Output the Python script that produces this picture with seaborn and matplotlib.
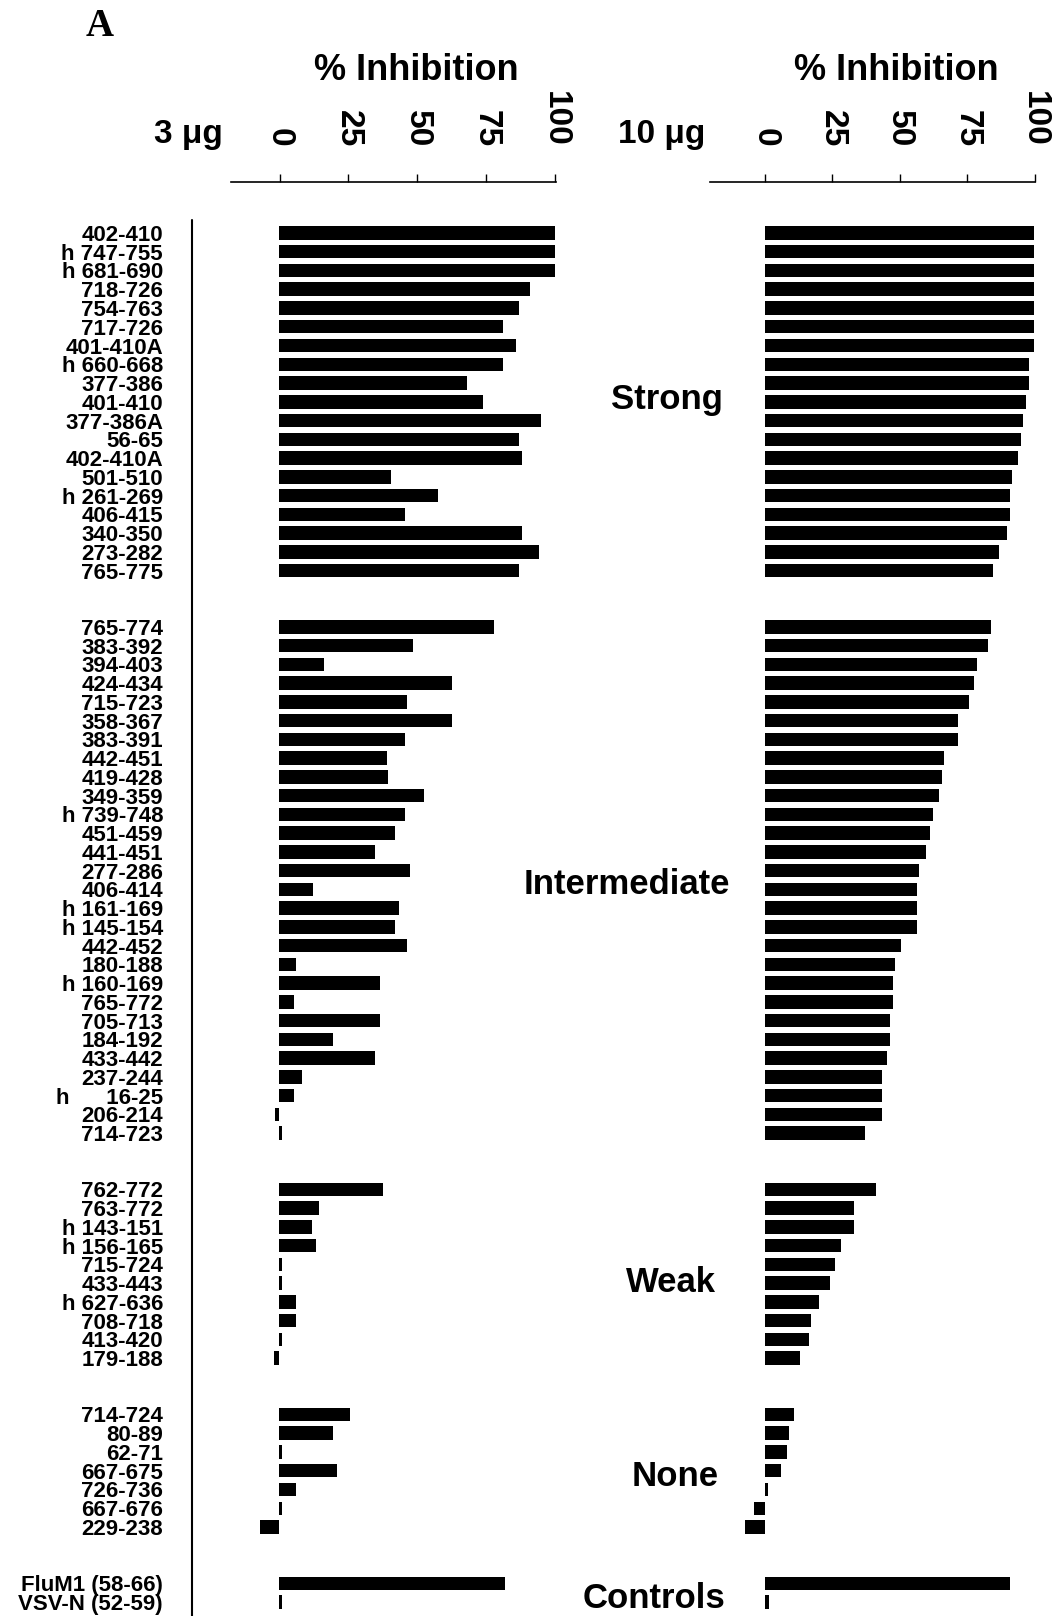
import matplotlib
matplotlib.use('Agg')
import pandas as pd
import matplotlib.pyplot as plt
import matplotlib.transforms as mtransforms
from matplotlib.lines import Line2D
import seaborn as sns

# --- data: peptides per group, % inhibition at 3 ug and 10 ug ---
strong_labels = ['402-410', 'h 747-755', 'h 681-690', '718-726', '754-763', '717-726',
                 '401-410A', 'h 660-668', '377-386', '401-410', '377-386A', '56-65',
                 '402-410A', '501-510', 'h 261-269', '406-415', '340-350', '273-282', '765-775']
strong_3ug = [100, 100, 100, 91, 87, 81, 86, 81, 68, 74, 95, 87, 88, 40.5, 57.5, 45.5, 88, 94, 87]
strong_10ug = [100, 100, 100, 100, 100, 100, 100, 98.3, 98.3, 97, 96, 95, 94, 92, 91, 91, 90, 87, 84.7]

inter_labels = ['765-774', '383-392', '394-403', '424-434', '715-723', '358-367', '383-391',
                '442-451', '419-428', '349-359', 'h 739-748', '451-459', '441-451', '277-286',
                '406-414', 'h 161-169', 'h 145-154', '442-452', '180-188', 'h 160-169',
                '765-772', '705-713', '184-192', '433-442', '237-244', 'h      16-25',
                '206-214', '714-723']
inter_3ug = [77.7, 48.4, 16.3, 62.6, 46.4, 62.6, 45.6, 39.1, 39.5, 52.5, 45.6, 41.8, 34.6, 47.4,
             12.2, 43.5, 41.8, 46.4, 6.1, 36.5, 5.2, 36.5, 19.3, 34.6, 8.3, 5.2, -1.5, 1]
inter_10ug = [84.1, 82.8, 78.8, 77.8, 75.7, 71.6, 71.6, 66.6, 65.8, 64.5, 62.5, 61.5, 59.9, 57.4,
              56.5, 56.5, 56.5, 50.4, 48.5, 47.4, 47.4, 46.5, 46.5, 45.3, 43.5, 43.5, 43.5, 37.2]

weak_labels = ['762-772', '763-772', 'h 143-151', 'h 156-165', '715-724', '433-443',
               'h 627-636', '708-718', '413-420', '179-188']
weak_3ug = [37.5, 14.3, 11.7, 13.3, 1, 1, 6.1, 6.1, 1, -2]
weak_10ug = [41.3, 33.1, 33.1, 28.2, 26.1, 24.1, 20.0, 17.1, 16.5, 12.9]

none_labels = ['714-724', '80-89', '62-71', '667-675', '726-736', '667-676', '229-238']
none_3ug = [25.5, 19.3, 1, 20.8, 6.1, 1, -7]
none_10ug = [10.9, 8.8, 8.2, 6.0, 1, -4.2, -7.5]

ctrl_labels = ['FluM1 (58-66)', 'VSV-N (52-59)']
ctrl_3ug = [81.8, 1]
ctrl_10ug = [90.9, 1.5]

group_names = ['Strong', 'Intermediate', 'Weak', 'None', 'Controls']
scale_ticks = [0, 25, 50, 75, 100]

groups = [(strong_labels, strong_3ug, strong_10ug),
          (inter_labels, inter_3ug, inter_10ug),
          (weak_labels, weak_3ug, weak_10ug),
          (none_labels, none_3ug, none_10ug),
          (ctrl_labels, ctrl_3ug, ctrl_10ug)]

rows = []
pos = 0
for labels, v3, v10 in groups:
    for lab, a, b in zip(labels, v3, v10):
        rows.append((pos, lab, a, b))
        pos += 1
    pos += 2  # blank rows between groups
df = pd.DataFrame(rows, columns=['pos', 'label', 'ug3', 'ug10'])
n_last = df['pos'].max()

sns.set_theme(style='white')
plt.rcParams['font.family'] = ['Liberation Sans', 'DejaVu Sans']
plt.rcParams['font.weight'] = 'bold'
for key in ['text.color', 'axes.labelcolor', 'xtick.color', 'ytick.color']:
    plt.rcParams[key] = 'black'

W, H = 1061, 1616
fig = plt.figure(figsize=(W / 100, H / 100), dpi=100)


def box(x0, x1, y0, y1):
    return [x0 / W, 1 - y1 / H, (x1 - x0) / W, (y1 - y0) / H]


# bar panels
ax3 = fig.add_axes(box(246.4, 557.8, 223.6, 1611.4))
ax10 = fig.add_axes(box(732.7, 1036.7, 223.6, 1611.4))
for ax, col in [(ax3, 'ug3'), (ax10, 'ug10')]:
    sns.barplot(data=df, x=col, y='pos', orient='h', native_scale=True, color='black',
                saturation=1, width=0.72, linewidth=0, errorbar=None, ax=ax)
    ax.set_xlim(-12, 101)
    ax.set_ylim(n_last + 0.5, -0.5)
    ax.set_xticks([])
    ax.set_xlabel('')
    ax.set_ylabel('')
    for s in ax.spines.values():
        s.set_visible(False)
    ax.patch.set_alpha(0)

ax3.set_yticks(df['pos'], df['label'])
ax3.tick_params(axis='y', length=0, pad=60, labelsize=16, labelcolor='black')
ax10.set_yticks([])

# scale bars on top
blend = mtransforms.blended_transform_factory
for (x0, x1, zero, hundred), title_x, dose, dose_x in [
        ((231, 556, 279.5, 555), 416.5, '3 μg', 188),
        ((710, 1035, 765, 1034.5), 896, '10 μg', 662)]:
    ppu = (hundred - zero) / 100
    sc = fig.add_axes(box(x0, x1, 150, 182))
    sc.set_xlim((x0 - zero) / ppu, (x1 - zero) / ppu)
    sc.set_ylim(0, 1)
    for side in ['top', 'left', 'right']:
        sc.spines[side].set_visible(False)
    sc.spines['bottom'].set_color('black')
    sc.spines['bottom'].set_linewidth(1.2)
    sc.set_yticks([])
    sc.set_xticks(scale_ticks)
    sc.tick_params(axis='x', direction='in', length=6, width=1, color='black',
                   labelbottom=False, bottom=True)
    sc.patch.set_alpha(0)
    tr = blend(sc.transData, fig.transFigure)
    for t in scale_ticks:
        sc.text(t, 1 - 147 / H, str(t), transform=tr, rotation=-90, ha='center',
                va='bottom', fontsize=24, fontweight='bold')
    fig.text(title_x / W, 1 - 70 / H, '% Inhibition', ha='center', va='center',
             fontsize=26, fontweight='bold')
    fig.text(dose_x / W, 1 - 134 / H, dose, ha='center', va='center',
             fontsize=24, fontweight='bold')

# group names
for name, (gx, gy) in zip(group_names, [(667, 400), (627, 885), (671, 1282), (675, 1477), (654, 1599)]):
    fig.text(gx / W, 1 - gy / H, name, ha='center', va='center', fontsize=25, fontweight='bold')

# divider line next to labels
fig.add_artist(Line2D([192 / W, 192 / W], [1 - 220 / H, 0], color='black', lw=1.5))

fig.text(100 / W, 1 - 26 / H, 'A', ha='center', va='center', fontsize=28,
         fontweight='bold', family='Liberation Serif')

fig.savefig('out.png', dpi=100)
